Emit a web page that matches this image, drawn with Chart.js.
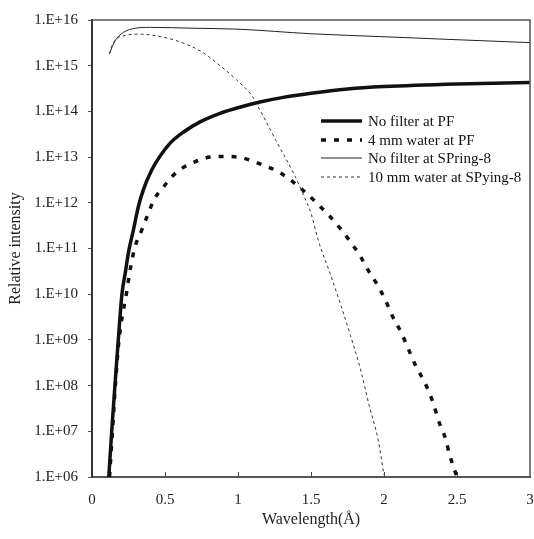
<!DOCTYPE html>
<html>
<head>
<meta charset="utf-8">
<script src="https://cdn.jsdelivr.net/npm/chart.js@4.4.1/dist/chart.umd.min.js"></script>
<style>
  html, body { margin: 0; padding: 0; background: #fff; }
  #wrap { width: 534px; height: 539px; position: relative; }
</style>
</head>
<body>
<div id="wrap"><canvas id="c"></canvas></div>
<script>
// 波长 (Å) / 相对强度，读自原图

// No filter at PF
const pfWl = [0.115, 0.135, 0.157, 0.18, 0.205, 0.23, 0.249, 0.283, 0.317, 0.351, 0.409, 0.466, 0.534, 0.625, 0.74, 0.877, 1.0, 1.15, 1.3, 1.5, 1.75, 2.0, 2.5, 3.0];
const pfNoFilter = [1.0e6, 1.0e7, 1.0e8, 1.0e9, 1.0e10, 3.2e10, 7.9e10, 2.5e11, 8.1e11, 1.9e12, 5.2e12, 1.05e13, 2.0e13, 3.5e13, 5.9e13, 9.1e13, 1.2e14, 1.6e14, 2.0e14, 2.5e14, 3.1e14, 3.5e14, 4.0e14, 4.3e14];

// 4 mm water at PF
const pfWaterWl = [0.12, 0.14, 0.16, 0.185, 0.235, 0.265, 0.295, 0.34, 0.386, 0.43, 0.489, 0.546, 0.614, 0.705, 0.808, 0.9, 1.0, 1.15, 1.29, 1.436, 1.54, 1.63, 1.70, 1.77, 1.84, 1.89, 1.95, 2.01, 2.06, 2.12, 2.17, 2.22, 2.28, 2.33, 2.38, 2.42, 2.45, 2.5];
const pfWater4mm = [1.0e6, 1.0e7, 1.0e8, 1.0e9, 1.0e10, 4.0e10, 1.1e11, 2.5e11, 5.9e11, 1.26e12, 2.2e12, 3.7e12, 5.6e12, 7.9e12, 1.0e13, 1.03e13, 1.0e13, 7.1e12, 4.5e12, 2.0e12, 9.8e11, 5.0e11, 2.75e11, 1.4e11, 6.6e10, 3.4e10, 1.7e10, 7.4e9, 3.2e9, 1.4e9, 6.0e8, 2.6e8, 1.15e8, 4.8e7, 1.5e7, 7.1e6, 3.0e6, 1.0e6];

// No filter at SPring-8
const spWl = [0.12, 0.16, 0.217, 0.297, 0.4, 0.7, 1.0, 1.5, 2.0, 2.5, 3.0];
const spNoFilter = [1.85e15, 3.6e15, 5.4e15, 6.6e15, 6.9e15, 6.6e15, 6.3e15, 5.0e15, 4.3e15, 3.7e15, 3.2e15];

// 10 mm water at SPring-8
const spWaterWl = [0.12, 0.137, 0.228, 0.32, 0.456, 0.594, 0.753, 0.877, 0.99, 1.1, 1.15, 1.21, 1.26, 1.38, 1.44, 1.5, 1.55, 1.63, 1.7, 1.77, 1.84, 1.9, 1.96, 2.0];
const spWater10mm = [1.8e15, 2.8e15, 4.6e15, 4.9e15, 4.4e15, 3.4e15, 2.0e15, 1.0e15, 4.9e14, 2.1e14, 1.07e14, 4.7e13, 2.3e13, 4.5e12, 1.7e12, 5.9e11, 1.5e11, 2.9e10, 6.3e9, 1.26e9, 2.2e8, 3.5e7, 6.5e6, 1.1e6];

const xTicks = [0, 0.5, 1, 1.5, 2, 2.5, 3];
const yExponents = [6, 7, 8, 9, 10, 11, 12, 13, 14, 15, 16];

const seriesNames = ['No filter at PF', '4 mm water at PF', 'No filter at SPring-8', '10 mm water at SPying-8'];

const SERIF = '"Liberation Serif", "DejaVu Serif", serif';

function toPoints(xs, ys) {
  return xs.map((x, i) => ({ x, y: ys[i] }));
}

// 图内图例 + 边框 + 向内的 x 刻度
const decorPlugin = {
  id: 'decor',
  afterDatasetsDraw(chart) {
    const { ctx, chartArea: a, scales } = chart;
    ctx.save();
    // 上、右边框
    ctx.strokeStyle = '#555';
    ctx.lineWidth = 1.5;
    ctx.beginPath();
    ctx.moveTo(a.left, a.top);
    ctx.lineTo(a.right, a.top);
    ctx.lineTo(a.right, a.bottom);
    ctx.stroke();
    // x 刻度 (朝内)
    ctx.strokeStyle = '#444';
    ctx.lineWidth = 1;
    xTicks.slice(1, -1).forEach(v => {
      const px = Math.round(scales.x.getPixelForValue(v)) + 0.5;
      ctx.beginPath();
      ctx.moveTo(px, a.bottom);
      ctx.lineTo(px, a.bottom - 5);
      ctx.stroke();
    });
    // 图例
    const lx0 = 321, lx1 = 362, tx = 368;
    const rows = [121, 140, 158, 177];
    ctx.font = '15px ' + SERIF;
    ctx.textBaseline = 'middle';
    ctx.textAlign = 'left';
    chart.data.datasets.forEach((ds, i) => {
      ctx.strokeStyle = ds.borderColor;
      ctx.lineWidth = ds.borderWidth;
      ctx.setLineDash(ds.borderDash || []);
      ctx.beginPath();
      ctx.moveTo(lx0, rows[i]);
      ctx.lineTo(lx1, rows[i]);
      ctx.stroke();
      ctx.setLineDash([]);
      ctx.fillStyle = '#111';
      ctx.fillText(ds.label, tx, rows[i] + 1);
    });
    ctx.restore();
  }
};

const ctx = document.getElementById('c').getContext('2d');

new Chart(ctx, {
  type: 'line',
  data: {
    datasets: [
      {
        label: seriesNames[0],
        data: toPoints(pfWl, pfNoFilter),
        borderColor: '#111',
        borderWidth: 3.5,
      },
      {
        label: seriesNames[1],
        data: toPoints(pfWaterWl, pfWater4mm),
        borderColor: '#111',
        borderWidth: 3.5,
        borderDash: [5, 8],
      },
      {
        label: seriesNames[2],
        data: toPoints(spWl, spNoFilter),
        borderColor: '#222',
        borderWidth: 1,
      },
      {
        label: seriesNames[3],
        data: toPoints(spWaterWl, spWater10mm),
        borderColor: '#333',
        borderWidth: 1,
        borderDash: [3, 3],
      },
    ]
  },
  options: {
    responsive: true,
    maintainAspectRatio: false,
    animation: false,
    layout: { padding: { top: 20, right: 4, left: 0, bottom: 0 } },
    elements: {
      point: { radius: 0 },
      line: { cubicInterpolationMode: 'monotone', fill: false },
    },
    plugins: {
      legend: { display: false },
      tooltip: { enabled: false },
    },
    scales: {
      x: {
        type: 'linear',
        min: 0,
        max: 3,
        afterBuildTicks: s => { s.ticks = xTicks.map(v => ({ value: v })); },
        afterFit: s => { s.height = 62; s.paddingLeft = 0; s.paddingRight = 0; },
        grid: { display: false },
        border: { display: true, color: '#555', width: 2 },
        ticks: {
          color: '#222',
          padding: 6,
          font: { family: SERIF, size: 15 },
          callback: v => String(v),
        },
        title: {
          display: true,
          text: 'Wavelength(Å)',
          color: '#222',
          font: { family: SERIF, size: 16 },
          padding: { top: 0, bottom: 10 },
        }
      },
      y: {
        type: 'logarithmic',
        min: 1e6,
        max: 1e16,
        afterBuildTicks: s => { s.ticks = yExponents.map(e => ({ value: Math.pow(10, e) })); },
        afterFit: s => { s.width = 92; s.paddingTop = 0; s.paddingBottom = 0; },
        grid: { display: true, drawOnChartArea: false, drawTicks: true, tickLength: 4, color: '#555' },
        border: { display: true, color: '#333', width: 2 },
        ticks: {
          color: '#222',
          padding: 10,
          font: { family: SERIF, size: 15 },
          callback: v => '1.E+' + String(Math.round(Math.log10(v))).padStart(2, '0'),
        },
        title: {
          display: true,
          text: 'Relative intensity',
          color: '#222',
          font: { family: SERIF, size: 16 },
          padding: { top: 6, bottom: 0 },
        }
      }
    }
  },
  plugins: [decorPlugin]
});
</script>
</body>
</html>
